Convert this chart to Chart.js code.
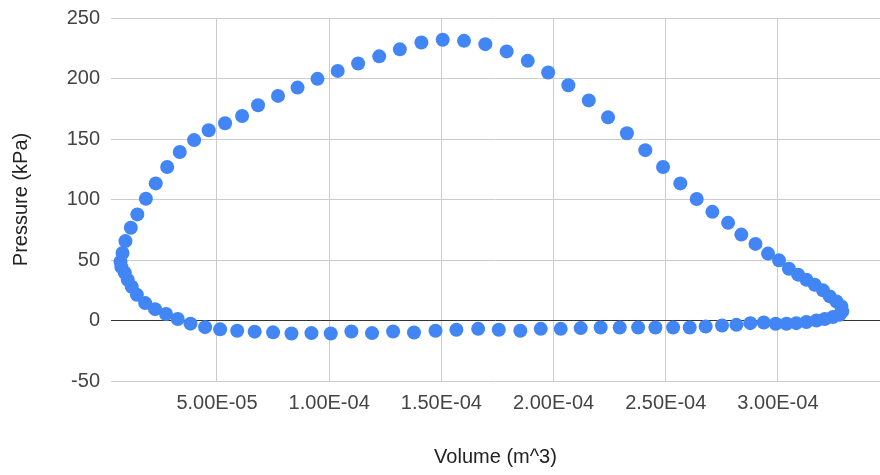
<!DOCTYPE html>
<html>
<head>
<meta charset="utf-8">
<script src="https://cdn.jsdelivr.net/npm/chart.js@4.4.1/dist/chart.umd.min.js"></script>
<style>
    html, body { margin: 0; padding: 0; background: #ffffff; }
    canvas { display: block; }
</style>
</head>
<body>
<canvas id="pv" width="880" height="475"></canvas>
<script>
const volume = [
    7.0e-6, 7.9e-6, 9.2e-6, 11.6e-6, 14.5e-6, 18.3e-6, 22.7e-6, 27.8e-6, 33.4e-6, 39.8e-6,
    46.3e-6, 53.6e-6, 61.2e-6, 68.3e-6, 77.2e-6, 85.9e-6, 94.8e-6, 103.8e-6, 112.9e-6, 122.3e-6,
    131.5e-6, 141.1e-6, 150.6e-6, 160.1e-6, 169.6e-6, 179.1e-6, 188.5e-6, 197.6e-6, 206.6e-6, 215.7e-6,
    224.3e-6, 232.7e-6, 240.9e-6, 248.8e-6, 256.5e-6, 263.8e-6, 270.8e-6, 277.8e-6, 283.7e-6, 290.0e-6,
    295.6e-6, 300.5e-6, 304.9e-6, 309.0e-6, 312.7e-6, 316.4e-6, 320.1e-6, 323.1e-6, 326.1e-6, 328.3e-6,
    328.7e-6, 327.5e-6, 324.5e-6, 320.9e-6, 317.2e-6, 312.7e-6, 308.2e-6, 303.8e-6, 299.0e-6, 293.7e-6,
    287.7e-6, 281.5e-6, 275.1e-6, 267.8e-6, 260.7e-6, 253.3e-6, 245.4e-6, 237.7e-6, 229.5e-6, 221.0e-6,
    212.1e-6, 203.2e-6, 194.3e-6, 185.2e-6, 175.6e-6, 166.4e-6, 156.7e-6, 147.4e-6, 137.8e-6, 128.5e-6,
    119.1e-6, 109.9e-6, 100.7e-6, 92.1e-6, 83.2e-6, 75.0e-6, 66.8e-6, 59.0e-6, 51.4e-6, 44.7e-6,
    38.2e-6, 32.5e-6, 27.3e-6, 22.4e-6, 18.0e-6, 14.3e-6, 12.0e-6, 10.2e-6, 8.9e-6, 7.4e-6
];
const pressure = [
    48.6, 55.8, 65.6, 76.6, 87.7, 100.6, 113.3, 126.8, 139.2, 149.1,
    157.2, 163.0, 169.0, 177.9, 185.6, 192.5, 199.7, 206.3, 212.4, 218.3,
    224.1, 229.7, 232.0, 231.1, 228.4, 222.4, 214.6, 205.0, 194.4, 181.9,
    167.9, 154.7, 140.8, 126.8, 113.3, 100.4, 89.8, 80.7, 71.0, 63.3,
    55.3, 49.7, 42.8, 37.9, 33.7, 29.6, 24.9, 19.9, 15.7, 11.6,
    7.5, 4.7, 2.8, 1.2, 0.0, -1.3, -2.2, -2.7, -2.7, -1.7,
    -2.2, -3.6, -4.1, -5.0, -5.8, -5.8, -5.8, -5.8, -5.8, -5.8,
    -6.3, -6.9, -6.9, -8.5, -7.7, -6.9, -7.7, -8.5, -9.9, -9.1,
    -10.4, -9.1, -10.8, -10.4, -10.8, -9.8, -9.2, -8.5, -7.3, -5.5,
    -2.6, 1.2, 5.4, 9.4, 14.4, 21.3, 27.9, 33.7, 39.5, 44.1
];

const xTicks = [5e-5, 1e-4, 1.5e-4, 2e-4, 2.5e-4, 3e-4];
const xTickLabels = ['5.00E-05', '1.00E-04', '1.50E-04', '2.00E-04', '2.50E-04', '3.00E-04'];

const textColor = '#444444';
const gridColor = '#cccccc';
const font = { family: 'Liberation Sans, Arial, sans-serif', size: 20 };

const points = volume.map((v, i) => ({ x: v, y: pressure[i] }));

new Chart(document.getElementById('pv').getContext('2d'), {
    type: 'scatter',
    data: {
        datasets: [
            {
                data: points,
                backgroundColor: '#4285f4',
                borderWidth: 0,
                pointRadius: 7,
                pointHoverRadius: 7
            }
        ]
    },
    options: {
        responsive: false,
        animation: false,
        devicePixelRatio: 1,
        layout: {
            autoPadding: false,
            padding: { top: 18, right: 0, bottom: 0, left: 0 }
        },
        plugins: {
            legend: { display: false },
            tooltip: { enabled: false }
        },
        scales: {
            x: {
                type: 'linear',
                min: 2.76e-6,
                max: 3.455e-4,
                afterBuildTicks: (scale) => {
                    scale.ticks = xTicks.map((value) => ({ value }));
                },
                afterFit: (scale) => {
                    scale.height = 94;
                    scale.paddingLeft = 0;
                    scale.paddingRight = 0;
                },
                ticks: {
                    color: textColor,
                    font,
                    padding: 10,
                    maxRotation: 0,
                    autoSkip: false,
                    callback: (value, index) => xTickLabels[index]
                },
                grid: {
                    color: gridColor,
                    drawTicks: false
                },
                border: { display: false },
                title: {
                    display: true,
                    text: 'Volume (m^3)',
                    color: '#222222',
                    font,
                    padding: { top: 0, bottom: 6 }
                }
            },
            y: {
                min: -50,
                max: 250,
                afterFit: (scale) => {
                    scale.width = 111;
                    scale.paddingTop = 0;
                    scale.paddingBottom = 0;
                },
                ticks: {
                    stepSize: 50,
                    color: textColor,
                    font,
                    padding: 11
                },
                grid: {
                    color: (ctx) => ctx.tick && ctx.tick.value === 0 ? '#333333' : gridColor,
                    drawTicks: false
                },
                border: { display: false },
                title: {
                    display: true,
                    text: 'Pressure (kPa)',
                    color: '#222222',
                    font,
                    padding: { top: 9, bottom: 0 }
                }
            }
        }
    }
});
</script>
</body>
</html>
